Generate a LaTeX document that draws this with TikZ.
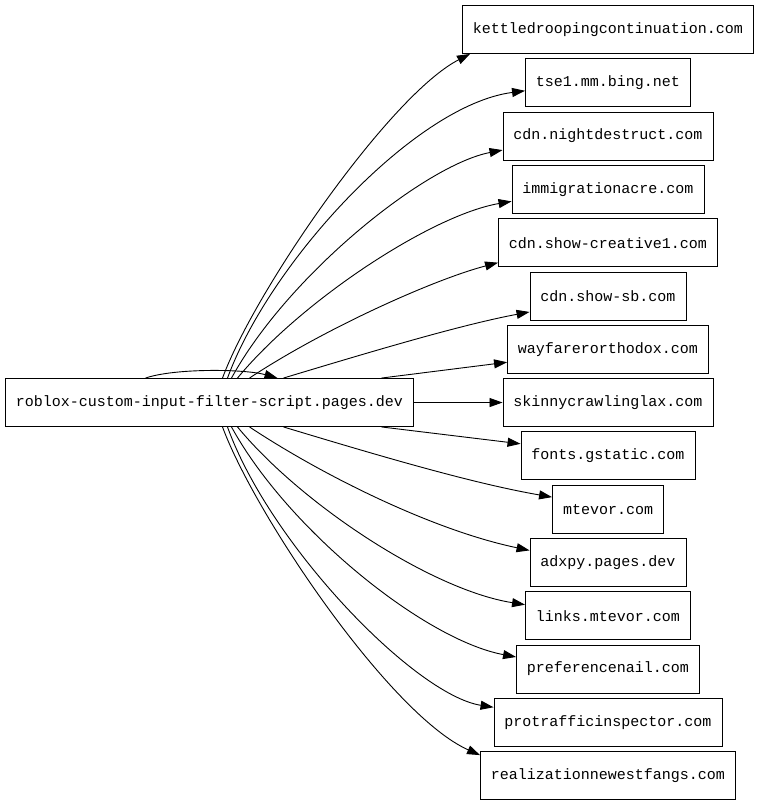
\documentclass[tikz,border=0pt]{standalone}
\usepackage{fontspec}
\usepackage{tikz}
\usetikzlibrary{arrows.meta}
\newfontfamily\sitefont{Liberation Mono}

\tikzset{
    site/.style={draw, line width=0.9pt, minimum height=48pt, inner xsep=10.5pt,
        font=\sitefont\fontsize{15}{18}\selectfont},
    edge/.style={line width=0.9pt, -{Triangle[length=13pt,width=9pt]}}
}

\begin{document}
\begin{tikzpicture}[x=1pt,y=-1pt]
    \useasboundingbox (0,0) rectangle (760,805);
    \node[site] (src) at (209.5,402.5) {roblox-custom-input-filter-script.pages.dev};
    % target boxes, top to bottom
    \foreach \name/\txt [count=\i from 0] in {kettle/kettledroopingcontinuation.com,
        tse/tse1.mm.bing.net, nightdestruct/cdn.nightdestruct.com,
        immigration/immigrationacre.com, creative/cdn.show-creative1.com,
        showsb/cdn.show-sb.com, wayfarer/wayfarerorthodox.com,
        skinny/skinnycrawlinglax.com, fonts/fonts.gstatic.com, mtevor/mtevor.com,
        adxpy/adxpy.pages.dev, links/links.mtevor.com, preference/preferencenail.com,
        protraffic/protrafficinspector.com, realization/realizationnewestfangs.com}
        \node[site] (\name) at (608,29.5+53.29*\i) {\txt};
    % self loop
    \draw[edge] ([xshift=-64pt]src.north) .. controls (175,368) and (245,369) .. ([xshift=68pt]src.north);
    % upper fan
    \draw[edge] ([xshift=13pt]src.north) .. controls (255,290) and (390,95) .. ([xshift=8pt]kettle.south west);
    \draw[edge] ([xshift=18pt]src.north) .. controls (270,262) and (415,105) .. ([yshift=-8pt]tse.west);
    \draw[edge] ([xshift=22pt]src.north) .. controls (288,275) and (425,165) .. ([yshift=-14pt]nightdestruct.west);
    \draw[edge] ([xshift=28pt]src.north) .. controls (302,300) and (432,215) .. ([yshift=-12pt]immigration.west);
    \draw[edge] ([xshift=40pt]src.north) .. controls (322,330) and (432,280) .. ([yshift=-20pt]creative.west);
    \draw[edge] ([xshift=74pt]src.north) .. controls (370,352) and (460,325) .. ([yshift=-16pt]showsb.west);
    \draw[edge] ([xshift=172pt]src.north) -- ([yshift=-13pt]wayfarer.west);
    \draw[edge] (src) -- (skinny);
    % lower fan
    \draw[edge] ([xshift=172pt]src.south) -- ([yshift=12pt]fonts.west);
    \draw[edge] ([xshift=74pt]src.south) .. controls (370,453) and (470,483) .. ([yshift=12pt]mtevor.west);
    \draw[edge] ([xshift=40pt]src.south) .. controls (322,475) and (432,530) .. ([yshift=12pt]adxpy.west);
    \draw[edge] ([xshift=28pt]src.south) .. controls (302,505) and (432,590) .. ([yshift=11pt]links.west);
    \draw[edge] ([xshift=22pt]src.south) .. controls (288,530) and (425,640) .. ([yshift=12pt]preference.west);
    \draw[edge] ([xshift=18pt]src.south) .. controls (270,545) and (415,695) .. ([yshift=15pt]protraffic.west);
    \draw[edge] ([xshift=13pt]src.south) .. controls (255,515) and (390,715) .. ([yshift=-4pt]realization.north west);
\end{tikzpicture}
\end{document}
